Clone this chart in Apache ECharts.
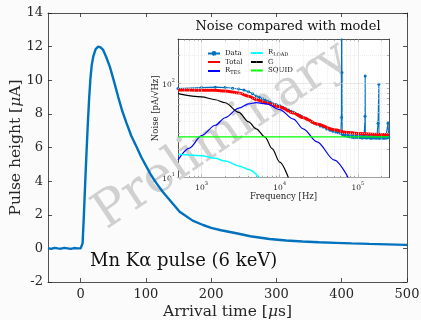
<!DOCTYPE html>
<html><head><meta charset="utf-8">
<script src="https://cdn.jsdelivr.net/npm/echarts@6/dist/echarts.min.js"></script>
<style>html,body{margin:0;padding:0;background:#fbfbfb}#c{width:421px;height:320px}</style>
</head><body><div id="c"></div>
<script>
// ---- Main pulse (time in microseconds, current in microamps) ----
const pulseTime = [-50,-45,-40,-35,-30,-25,-20,-15,-10,-5,0,2,3,5,7,9,11,13,15,17,19.3,23,26.9,30.5,34.5,39,44.8,51,57.4,63.5,70.3,77.5,85.6,93,100.8,108,116,126,136.4,151.7,171.6,187.5,200,215,238.5,260,289.4,315,340,365,391,415,442,470,498,500];
const pulseCurrent = [0.02,-0.03,0.03,0.0,-0.02,0.03,0.0,-0.03,0.02,0.0,0.0,0.05,0.3,2.0,3.9,5.7,7.4,8.9,10.1,10.9,11.4,11.85,12.0,11.95,11.8,11.4,10.8,9.95,9.03,8.2,7.45,6.7,6.05,5.42,4.86,4.35,3.88,3.35,2.88,2.18,1.65,1.39,1.22,1.08,0.9,0.72,0.56,0.47,0.41,0.36,0.33,0.30,0.27,0.24,0.21,0.2];
const mainXTicks = [0,100,200,300,400,500];

// ---- Inset: noise spectra (Hz, pA/sqrt(Hz)) ----
const dataFreq = [500,1000,1500,2000,2500,3000,3500,4000,4500,5000,5500,6000,6500,7000,7500,8000,9000,10000,11000,12000,13000,14000,15000,16000,17000,18000,19000,20000,22000,24000,26000,28000,30000,33000,36000,40000,44000,48000,52000,56000,60000,61500,62000,62500,63000,65000,67000,69000,71000,73000,75000,78000,81000,84000,87000,90000,93000,96000,99000,102000,105000,108000,111000,114000,117000,120000,123500,124000,124500,127000,130000,133000,136000,139000,142000,145000,148000,151000,154000,157000,160000,163000,166000,169000,172000,175000,178000,181000,185500,186000,186500,189000,192000,195000,198000,201000,204000,207000,210000,213000,216000,219000,222000,225000,228000,231000,234000,237000,240000,243000,247500,248000,250000];
const dataNoise = [89,91,92,91,89.5,88,85.5,82,78,74,71.5,69,67,65,63.5,62,60,58.5,56,54,52.5,51,49.5,48.5,47,46,45,44,42,40.5,39,38,37,35.5,34.5,33,32,31.2,30.6,30,29.6,44,1000,132,29.0,28.4,29.2,27.9,28.6,27.6,28.3,27.2,28.0,26.9,27.8,26.6,27.7,26.8,27.5,26.5,27.6,26.7,27.3,26.4,27.5,26.8,45,121,26.6,27.4,26.3,27.2,26.7,27.5,26.4,27.1,26.2,27.3,26.6,27.0,26.3,27.4,26.5,27.1,26.2,27.2,26.6,38,98.6,26.4,27.3,26.2,27.0,26.6,27.2,26.3,27.1,26.5,26.9,26.2,27.2,26.4,27.0,26.6,27.3,26.3,27.0,26.5,26.9,38,26.8];
const totalFreq = [500,700,1000,1500,2000,3000,4000,5000,7000,10000,15000,20000,30000,50000,70000,100000,150000,250000];
const totalNoise = [85.5,85.5,85.4,85,83.7,79.5,73.5,68,62,56.5,48.6,43.5,37.2,32.3,30.4,29.5,28.9,28.6];
const rtesFreq = [500,700,1000,1500,2000,3000,4000,5000,7000,10000,15000,20000,30000,50000,75000];
const rtesNoise = [15.4,20.6,28,36.1,43.4,55,61,62.8,60.5,53,42,33,24,15.3,10];
const rloadFreq = [500,1000,1500,2000,3000,4000,5500];
const rloadNoise = [17.7,17.1,16.0,15.0,13.3,12.2,10];
const gFreq = [500,1000,1500,2000,3000,4000,5000,6500,8000,10000,12900];
const gNoise = [78.5,72.5,67.5,62.7,49.5,39.2,33,27,20.3,14.6,10];
const squidFreq = [500,250000];
const squidNoise = [27.1,27.1];
const insetXMajor = [1000,10000,100000];
const insetXMinor = [600,700,800,900,2000,3000,4000,5000,6000,7000,8000,9000,20000,30000,40000,50000,60000,70000,80000,90000,200000];
const insetYMajor = [10,100];
const insetYMinor = [20,30,40,50,60,70,80,90,200];

const zip = (a,b) => a.map((v,i)=>[v,b[i]]);
const FF = '"DejaVu Serif", serif';
const AX = '#262626';

const chart = echarts.init(document.getElementById('c'));
const pow = v => {
  const e = Math.log10(v);
  if (Math.abs(e - Math.round(e)) > 1e-6) return '';
  return '{b|10}{e|' + Math.round(e) + '}';
};
const powRich = {
  b:{fontSize:7.5,fontFamily:FF,color:AX,lineHeight:11,verticalAlign:'bottom'},
  e:{fontSize:5,fontFamily:FF,color:AX,lineHeight:5,verticalAlign:'top'}
};
const mainLine = {show:true,onZero:false,lineStyle:{color:AX,width:0.8}};
const insetLine = {show:true,onZero:false,lineStyle:{color:AX,width:0.8}};

function insetX(pos, labels, minor) {
  return {
    type:'log', logBase:10, gridIndex:1, position:pos, min:500, max:250000,
    axisLine: minor ? {show:false,onZero:false} : insetLine,
    axisTick:{show:true,inside:true,length:minor?1.6:3,customValues:minor?insetXMinor:insetXMajor,lineStyle:{color:AX,width:0.6}},
    axisLabel: labels ? {show:true,customValues:insetXMajor,formatter:pow,rich:powRich,margin:4} : {show:false},
    splitLine:{show:false}, minorTick:{show:false},
    name: labels ? 'Frequency [Hz]' : '', nameLocation:'middle', nameGap:15, nameMoveOverlap:false,
    nameTextStyle:{fontFamily:FF,fontSize:8.5,color:AX}
  };
}
function insetY(pos, labels, minor) {
  return {
    type:'log', logBase:10, gridIndex:1, position:pos, min:10, max:300,
    axisLine: minor ? {show:false,onZero:false} : insetLine,
    axisTick:{show:true,inside:true,length:minor?1.6:3,customValues:minor?insetYMinor:insetYMajor,lineStyle:{color:AX,width:0.6}},
    axisLabel: labels ? {show:true,customValues:insetYMajor,formatter:pow,rich:powRich,margin:3} : {show:false},
    splitLine:{show:false}, minorTick:{show:false},
    name: labels ? 'Noise [pA/√Hz]' : '', nameLocation:'middle', nameGap:18, nameMoveOverlap:false,
    nameTextStyle:{fontFamily:FF,fontSize:8.5,color:AX}
  };
}

const gridLineData = []
  .concat(insetXMajor.map(v=>({xAxis:v,lineStyle:{color:'#d6d6d6',width:0.6,type:'solid'}})))
  .concat(insetXMinor.map(v=>({xAxis:v,lineStyle:{color:'#e2e2e2',width:0.6,type:[1,1]}})))
  .concat(insetYMajor.map(v=>({yAxis:v,lineStyle:{color:'#d6d6d6',width:0.6,type:'solid'}})))
  .concat(insetYMinor.map(v=>({yAxis:v,lineStyle:{color:'#e2e2e2',width:0.6,type:[1,1]}})));

const legendText = {fontFamily:FF,fontSize:7,color:'#111',lineHeight:8,
  rich:{r:{fontFamily:FF,fontSize:7,color:'#111',lineHeight:9,verticalAlign:'top'},
        s:{fontFamily:FF,fontSize:5,color:'#111',lineHeight:4,verticalAlign:'bottom'}}};
const legendFmt = n => n.indexOf('R_')===0 ? '{r|R}{s|'+n.slice(2)+'}' : n;
const noMark = name => ({name:name,itemStyle:{opacity:0}});

chart.setOption({
  animation:false,
  backgroundColor:'#fbfbfb',
  title:{text:'Noise compared with model',left:283,top:15,textAlign:'center',
    textStyle:{fontFamily:FF,fontSize:13,fontWeight:'normal',color:'#111'}},
  grid:[
    {left:48,right:14,top:13,bottom:38,show:false,containLabel:false,outerBoundsMode:'none'},
    {left:178,right:32,top:39,bottom:142.5,show:true,backgroundColor:'#ffffff',borderWidth:0,containLabel:false,outerBoundsMode:'none'}
  ],
  legend:[
    {data:[{name:'Data'},noMark('Total'),noMark('R_TES')],orient:'vertical',left:207,top:49.5,padding:0,itemWidth:12,itemHeight:6,itemGap:0.5,
     textStyle:legendText,formatter:legendFmt,selectedMode:false},
    {data:[noMark('R_LOAD'),noMark('G'),noMark('SQUID')],orient:'vertical',left:250,top:48.5,padding:0,itemWidth:12,itemHeight:6,itemGap:0.5,
     textStyle:legendText,formatter:legendFmt,selectedMode:false}
  ],
  xAxis:[
    {type:'value',gridIndex:0,position:'bottom',min:-50,max:500,axisLine:mainLine,
     axisTick:{show:true,inside:true,length:4,customValues:mainXTicks,lineStyle:{color:AX,width:0.8}},
     axisLabel:{customValues:mainXTicks,fontFamily:FF,fontSize:13,color:AX,margin:6},
     splitLine:{show:false},
     name:'Arrival time [{i|μ}s]',nameLocation:'middle',nameGap:22,nameMoveOverlap:false,
     nameTextStyle:{fontFamily:FF,fontSize:15.5,color:AX,rich:{i:{fontFamily:FF,fontSize:15.5,fontStyle:'italic',color:AX}}}},
    {type:'value',gridIndex:0,position:'top',min:-50,max:500,axisLine:mainLine,
     axisTick:{show:true,inside:true,length:4,customValues:mainXTicks,lineStyle:{color:AX,width:0.8}},
     axisLabel:{show:false},splitLine:{show:false}},
    insetX('bottom',true,false), insetX('top',false,false),
    insetX('bottom',false,true), insetX('top',false,true)
  ],
  yAxis:[
    {type:'value',gridIndex:0,position:'left',min:-2,max:14,interval:2,axisLine:mainLine,
     axisTick:{show:true,inside:true,length:4,lineStyle:{color:AX,width:0.8}},
     axisLabel:{fontFamily:FF,fontSize:13,color:AX,margin:5},
     splitLine:{show:false},
     name:'Pulse height [{i|μ}A]',nameLocation:'middle',nameGap:24,nameMoveOverlap:false,
     nameTextStyle:{fontFamily:FF,fontSize:15.5,color:AX,rich:{i:{fontFamily:FF,fontSize:15.5,fontStyle:'italic',color:AX}}}},
    {type:'value',gridIndex:0,position:'right',min:-2,max:14,interval:2,axisLine:mainLine,
     axisTick:{show:true,inside:true,length:4,lineStyle:{color:AX,width:0.8}},
     axisLabel:{show:false},splitLine:{show:false}},
    insetY('left',true,false), insetY('right',false,false),
    insetY('left',false,true), insetY('right',false,true)
  ],
  graphic:[
    {type:'text',left:90,top:252,z:3,style:{text:'Mn Kα pulse (6 keV)',font:'18px "DejaVu Serif", serif',fill:'#111'}},
    {type:'text',x:222,y:136,rotation:34*Math.PI/180,z:1.5,
     style:{text:'Preliminary',font:'50px "DejaVu Serif", serif',fill:'#d0d0d0',align:'center',verticalAlign:'middle'}}
  ],
  series:[
    {name:'pulse',type:'line',xAxisIndex:0,yAxisIndex:0,data:zip(pulseTime,pulseCurrent),symbol:'none',
     lineStyle:{color:'#0072BD',width:2.4},itemStyle:{color:'#0072BD'},z:3},
    {name:'gridlines',type:'line',xAxisIndex:2,yAxisIndex:2,data:[],z:1,symbol:'none',
     markLine:{silent:true,symbol:['none','none'],label:{show:false},animation:false,data:gridLineData}},
    {name:'Data',type:'line',xAxisIndex:2,yAxisIndex:2,data:zip(dataFreq,dataNoise),showSymbol:true,symbol:'circle',symbolSize:3,
     lineStyle:{color:'#0072BD',width:1.1},itemStyle:{color:'#0072BD',borderWidth:0},z:3},
    {name:'Total',type:'line',xAxisIndex:2,yAxisIndex:2,data:zip(totalFreq,totalNoise),symbol:'none',smooth:0.3,smoothMonotone:'x',
     lineStyle:{color:'#ff0000',width:3},itemStyle:{color:'#ff0000'},z:4},
    {name:'R_TES',type:'line',xAxisIndex:2,yAxisIndex:2,data:zip(rtesFreq,rtesNoise),symbol:'none',smooth:0.3,smoothMonotone:'x',
     lineStyle:{color:'#0000ff',width:1.2},itemStyle:{color:'#0000ff'},z:5},
    {name:'R_LOAD',type:'line',xAxisIndex:2,yAxisIndex:2,data:zip(rloadFreq,rloadNoise),symbol:'none',smooth:0.3,smoothMonotone:'x',
     lineStyle:{color:'#00ffff',width:1.5},itemStyle:{color:'#00ffff'},z:5},
    {name:'G',type:'line',xAxisIndex:2,yAxisIndex:2,data:zip(gFreq,gNoise),symbol:'none',smooth:0.3,smoothMonotone:'x',
     lineStyle:{color:'#000000',width:1.2},itemStyle:{color:'#000000'},z:5},
    {name:'SQUID',type:'line',xAxisIndex:2,yAxisIndex:2,data:zip(squidFreq,squidNoise),symbol:'none',
     lineStyle:{color:'#00ff00',width:1.2},itemStyle:{color:'#00ff00'},z:5}
  ]
});
</script></body></html>
